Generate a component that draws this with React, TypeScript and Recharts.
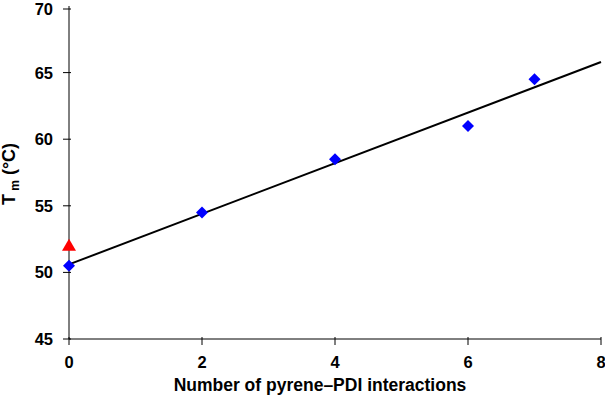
import React from 'react';
import { ScatterChart, Scatter, XAxis, YAxis } from 'recharts';

const measured = [
  { n: 0, tm: 50.5 },
  { n: 2, tm: 54.5 },
  { n: 4, tm: 58.5 },
  { n: 6, tm: 61 },
  { n: 7, tm: 64.5 },
];
const reference = [{ n: 0, tm: 52 }];
const fitLine = [
  { n: 0, tm: 50.6 },
  { n: 8, tm: 65.8 },
];
const xTicks = [0, 2, 4, 6, 8];
const yTicks = [45, 50, 55, 60, 65, 70];

const FONT = '"Liberation Sans", Arial, sans-serif';

const Diamond = (props: any) => {
  const { cx, cy } = props;
  if (cx == null || cy == null) return null;
  const r = 6;
  return <path d={`M${cx},${cy - r}L${cx + r},${cy}L${cx},${cy + r}L${cx - r},${cy}Z`} fill="#0000ff" />;
};

const Triangle = (props: any) => {
  const { cx, cy } = props;
  if (cx == null || cy == null) return null;
  return <path d={`M${cx},${cy - 7}L${cx + 7},${cy + 5}L${cx - 7},${cy + 5}Z`} fill="#ff0000" />;
};

const XTick = (props: any) => {
  const { x, y, payload } = props;
  return (
    <g>
      <line x1={x} x2={x} y1={y - 4} y2={y + 4} stroke="#000" strokeWidth={1} />
      <text x={x} y={y + 27} textAnchor="middle" fontFamily={FONT} fontWeight="bold" fontSize={16.5} fill="#000">
        {payload.value}
      </text>
    </g>
  );
};

const YTick = (props: any) => {
  const { x, y, payload } = props;
  return (
    <g>
      <line x1={x - 4} x2={x + 4} y1={y} y2={y} stroke="#000" strokeWidth={1} />
      <text x={x - 14} y={y + 6} textAnchor="end" fontFamily={FONT} fontWeight="bold" fontSize={16.5} fill="#000">
        {payload.value}
      </text>
    </g>
  );
};

const XLabel = () => (
  <text x={320} y={391} textAnchor="middle" fontFamily={FONT} fontWeight="bold" fontSize={17.5} fill="#000">
    Number of pyrene–PDI interactions
  </text>
);

const YLabel = () => (
  <text
    transform="translate(15,174) rotate(-90)"
    textAnchor="middle"
    fontFamily={FONT}
    fontWeight="bold"
    fontSize={18}
    fill="#000"
  >
    T<tspan fontSize={12} dy={4}> m</tspan>
    <tspan dy={-4}> (°C)</tspan>
  </text>
);

export default function App() {
  return (
    <div style={{ position: 'absolute', left: 0, top: 0 }}>
      <ScatterChart width={605} height={396} margin={{ top: 6, right: 4, bottom: 0, left: 0 }}>
        <XAxis
          type="number"
          dataKey="n"
          domain={[0, 8]}
          ticks={xTicks}
          tickLine={false}
          tickSize={0}
          tick={<XTick />}
          axisLine={{ stroke: '#000' }}
          height={57}
          label={<XLabel />}
        />
        <YAxis
          type="number"
          dataKey="tm"
          domain={[45, 70]}
          ticks={yTicks}
          tickLine={false}
          tickSize={0}
          tick={<YTick />}
          axisLine={{ stroke: '#000' }}
          width={69}
          label={<YLabel />}
        />
        <Scatter
          data={fitLine}
          line={{ stroke: '#000', strokeWidth: 2 }}
          shape={() => null}
          isAnimationActive={false}
        />
        <Scatter data={reference} shape={<Triangle />} isAnimationActive={false} />
        <Scatter data={measured} shape={<Diamond />} isAnimationActive={false} />
      </ScatterChart>
    </div>
  );
}
